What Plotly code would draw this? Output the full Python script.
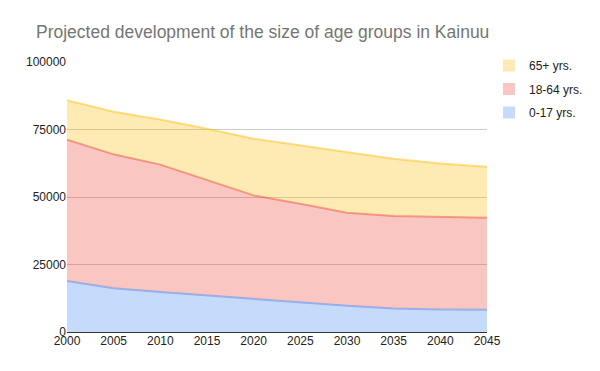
import plotly.graph_objects as go

years = [2000, 2005, 2010, 2015, 2020, 2025, 2030, 2035, 2040, 2045]
age_0_17 = [18900, 16200, 14800, 13500, 12300, 11100, 9700, 8700, 8300, 8200]
age_18_64 = [52300, 49600, 47200, 42800, 38300, 36400, 34500, 34300, 34300, 34100]
age_65_plus = [14600, 15800, 16700, 19000, 21000, 21600, 22300, 21200, 19800, 18900]
y_ticks = [0, 25000, 50000, 75000, 100000]

series = [
    ("0-17 yrs.", age_0_17, (66, 133, 244), 3),
    ("18-64 yrs.", age_18_64, (234, 67, 53), 2),
    ("65+ yrs.", age_65_plus, (251, 188, 4), 1),
]

# page body has an 8px default margin; layout offsets account for it
OFF = 8
PLOT_L, PLOT_R, PLOT_T, PLOT_B = 67, 487, 62, 332  # on-screen plot area

fig = go.Figure()
for name, vals, (r, g, b), rank in series:
    fig.add_trace(go.Scatter(
        x=years, y=vals, name=name, mode="lines", stackgroup="one",
        showlegend=False,
        line=dict(color=f"rgba({r},{g},{b},0.45)", width=2),
        fillcolor=f"rgba({r},{g},{b},0.3)",
        hoverinfo="x+y+name",
    ))
for name, vals, (r, g, b), rank in series:
    fig.add_trace(go.Scatter(
        x=[None], y=[None], name=name, mode="markers",
        legendrank=rank, legendgroup=name,
        marker=dict(symbol="square", size=12,
                    color=f"rgba({r},{g},{b},0.3)", line=dict(width=0)),
        hoverinfo="skip",
    ))

font_family = "Arial, Liberation Sans, sans-serif"
pw = PLOT_R - PLOT_L
ph = PLOT_B - PLOT_T
fig.update_layout(
    width=600, height=371,
    margin=dict(l=PLOT_L - OFF, r=600 - PLOT_R + OFF, t=PLOT_T - OFF, b=371 - PLOT_B + OFF),
    paper_bgcolor="white", plot_bgcolor="white",
    font=dict(family=font_family, size=12, color="#222222"),
    title=dict(text="Projected development of the size of age groups in Kainuu",
               x=(36 - OFF) / 600, xanchor="left", y=1 - (32 - OFF) / 371, yanchor="middle",
               font=dict(family=font_family, size=17.5, color="#757575")),
    xaxis=dict(range=[2000, 2045], tickvals=years, ticktext=[str(y) for y in years],
               showgrid=False, zeroline=False, showline=False, ticks="",
               tickfont=dict(size=12, color="#222222")),
    yaxis=dict(range=[0, 100000], tickvals=y_ticks, ticktext=[str(v) for v in y_ticks],
               showgrid=True, gridcolor="#cccccc", gridwidth=1,
               zeroline=True, zerolinecolor="#333333", zerolinewidth=1,
               showline=False, ticks="", ticklen=0,
               tickfont=dict(size=12, color="#222222")),
    legend=dict(x=(489 - PLOT_L) / pw, xanchor="left",
                y=(PLOT_B - 51) / ph, yanchor="top",
                traceorder="grouped", tracegroupgap=4.5, itemsizing="constant",
                font=dict(size=12, color="#222222"), bgcolor="rgba(0,0,0,0)"),
    showlegend=True,
)

fig.write_html("out.html")
